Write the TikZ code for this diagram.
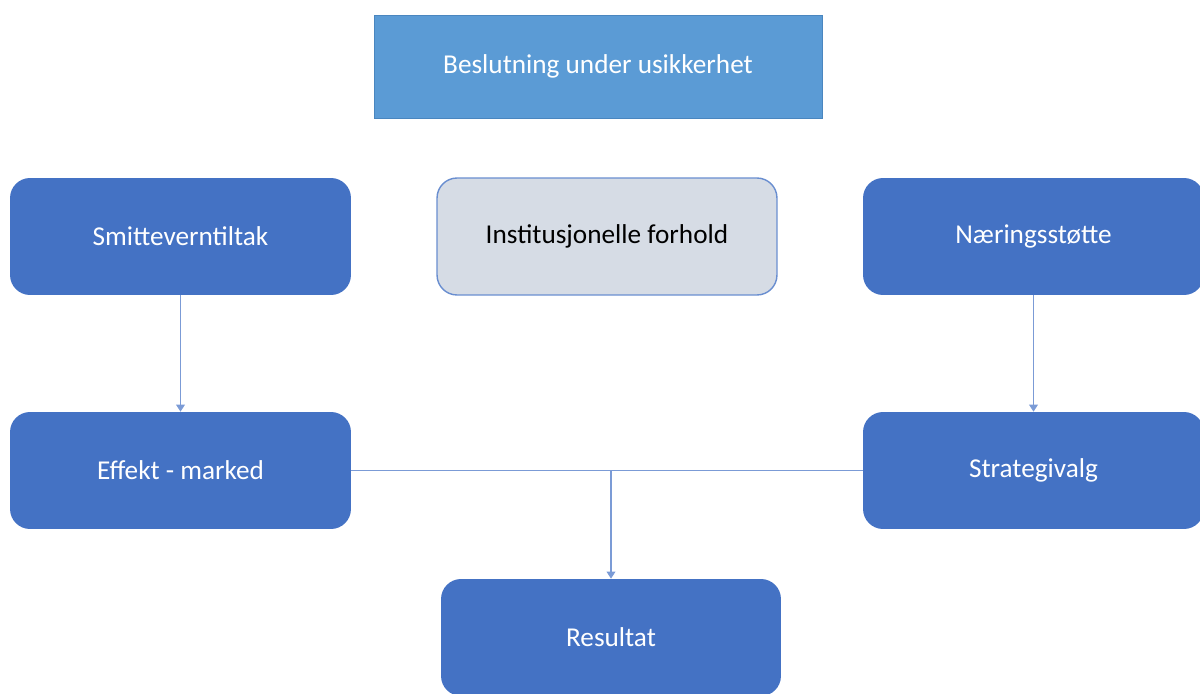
\documentclass[tikz,border=0pt]{standalone}
\usepackage{fontspec}
\setmainfont{Carlito}
\usepackage{xcolor}
\usepackage{tikz}
\usetikzlibrary{arrows.meta}
\usetikzlibrary{calc}

\definecolor{topblue}{HTML}{5B9BD5}
\definecolor{topedge}{HTML}{4A86BF}
\definecolor{boxblue}{HTML}{4472C4}
\definecolor{boxgray}{HTML}{D6DCE5}
\definecolor{linkblue}{HTML}{7B9BD6}

\begin{document}
\begin{tikzpicture}[x=0.02cm, y=-0.02cm,
    box/.style={rounded corners=0.4cm, minimum width=6.82cm, minimum height=2.34cm,
        fill=boxblue, text=white, font=\fontsize{15.5}{18}\selectfont, inner sep=0pt},
    link/.style={draw=linkblue, line width=0.6pt},
    tip/.style={-{Triangle[length=4pt, width=5pt]}}]
    \useasboundingbox (0,0) rectangle (1200,693);
    \clip (0,0) rectangle (1200,693);

    % Top box
    \node[draw=topedge, fill=topblue, text=white, minimum width=8.96cm, minimum height=2.06cm,
        font=\fontsize{15.5}{18}\selectfont, inner sep=0pt] (beslutning) at (598,66.5) {Beslutning under usikkerhet};

    % Row one
    \node[box] (smitte) at (180.5,236.5) {Smitteverntiltak};
    \node[box, fill=boxgray, draw=boxblue!80, line width=0.8pt, text=black, minimum width=6.8cm] (inst) at (607,236.5) {Institusjonelle forhold};
    \node[box] (naering) at (1033.5,236.5) {Næringsstøtte};

    % Row two
    \node[box] (effekt) at (180.5,470.5) {Effekt - marked};
    \node[box] (strategi) at (1033.5,470.5) {Strategivalg};

    % Bottom
    \node[box, minimum width=6.8cm] (resultat) at (611,637.5) {Resultat};

    % Arrows
    \draw[link, tip] (smitte) -- (effekt);
    \draw[link, tip] (naering) -- (strategi);
    \draw[link] (effekt) -- (strategi);
    \coordinate (join) at (resultat.north |- effekt.east);
    \draw[link, tip] (join) -- (resultat);
\end{tikzpicture}
\end{document}
